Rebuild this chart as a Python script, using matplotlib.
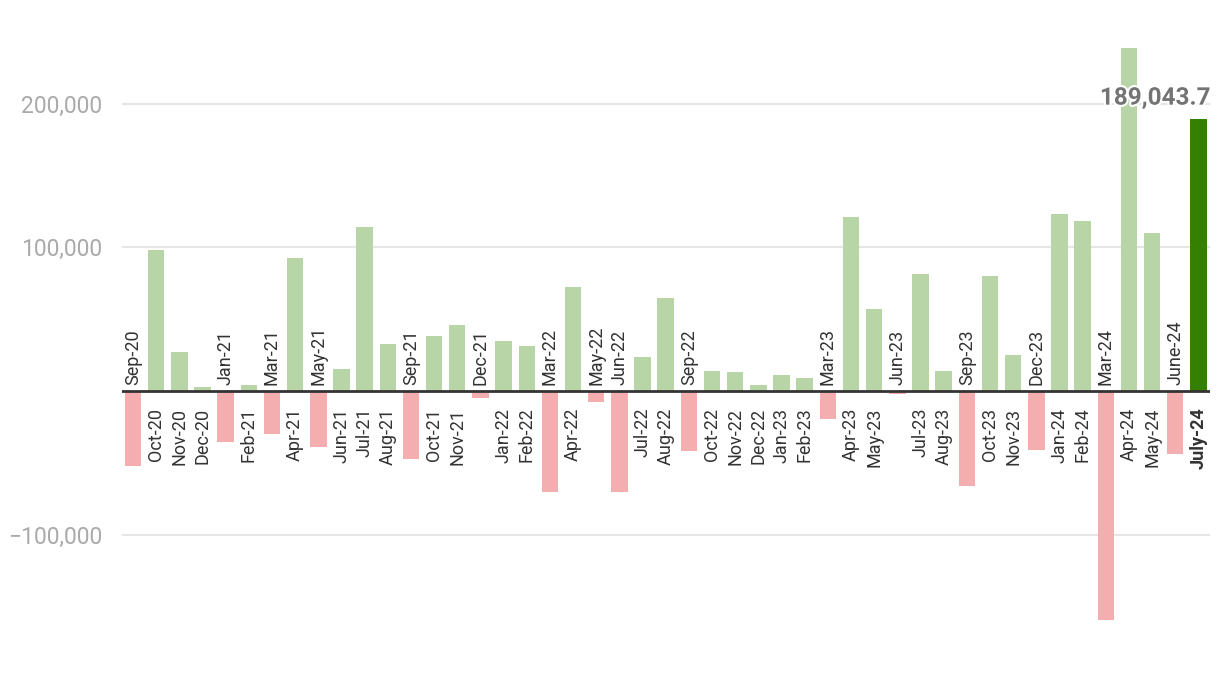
import numpy as np
import matplotlib
matplotlib.use("Agg")
import matplotlib.pyplot as plt
import matplotlib.patheffects as pe

plt.rcParams['font.family'] = ['Roboto', 'DejaVu Sans']

# monthly values
months = ["Sep-20", "Oct-20", "Nov-20", "Dec-20", "Jan-21", "Feb-21", "Mar-21", "Apr-21",
          "May-21", "Jun-21", "Jul-21", "Aug-21", "Sep-21", "Oct-21", "Nov-21", "Dec-21",
          "Jan-22", "Feb-22", "Mar-22", "Apr-22", "May-22", "Jun-22", "Jul-22", "Aug-22",
          "Sep-22", "Oct-22", "Nov-22", "Dec-22", "Jan-23", "Feb-23", "Mar-23", "Apr-23",
          "May-23", "Jun-23", "Jul-23", "Aug-23", "Sep-23", "Oct-23", "Nov-23", "Dec-23",
          "Jan-24", "Feb-24", "Mar-24", "Apr-24", "May-24", "June-24", "July-24"]
values = [-52200, 98100, 27100, 2800, -35500, 4200, -30000, 92500,
          -39000, 15300, 114100, 32700, -47300, 38300, 45900, -4900,
          34800, 31300, -70300, 72400, -7700, -70300, 23700, 64700,
          -41800, 13900, 13200, 4000, 11000, 9000, -19500, 121100,
          57100, -2000, 81400, 13900, -66100, 80000, 25000, -41100,
          123200, 118300, -159400, 238700, 110000, -43800, 189043.7]

pos_color = "#b8d5a8"
neg_color = "#f4aeb0"
last_color = "#348000"

x = np.arange(len(values))
colors = [pos_color if v >= 0 else neg_color for v in values]
colors[-1] = last_color

fig = plt.figure(figsize=(12.2, 6.74), dpi=100)
ax = fig.add_axes([122 / 1220, 0, (1210 - 122) / 1220, 1])

ax.bar(x, values, width=0.71, color=colors, zorder=2)
ax.axhline(0, color="#333333", linewidth=2, zorder=3)

ax.set_xlim(-0.475, len(values) - 0.5)
ax.set_ylim(-196900, 272100)
ax.set_yticks([-100000, 100000, 200000])
ax.set_yticklabels(["\u2212100,000", "100,000", "200,000"])
ax.yaxis.grid(True, color="#e6e6e6", linewidth=1.5, zorder=0)
ax.set_axisbelow(True)
ax.tick_params(axis='y', length=0, pad=14, labelsize=16.5, labelcolor="#aaaaaa")
ax.set_xticks([])
for s in ax.spines.values():
    s.set_visible(False)

# month labels on the opposite side of each bar
for i, (m, v) in enumerate(zip(months, values)):
    bold = (i == len(values) - 1)
    if v >= 0:
        ax.annotate(m, (i, 0), xytext=(0, -12), textcoords="offset points",
                    rotation=90, ha="center", va="top", fontsize=13,
                    color="#333333", fontweight="bold" if bold else "normal")
    else:
        ax.annotate(m, (i, 0), xytext=(0, 4), textcoords="offset points",
                    rotation=90, ha="center", va="bottom", fontsize=13,
                    color="#333333")

# value label on the latest month
ax.annotate(f"{values[-1]:,.1f}", (len(values) - 0.5, values[-1]), xytext=(0, 7),
            textcoords="offset points", ha="right", va="bottom", fontsize=17.5,
            fontweight="bold", color="#737373", zorder=5,
            path_effects=[pe.withStroke(linewidth=3, foreground="white")])

fig.savefig("out.png", dpi=100)
